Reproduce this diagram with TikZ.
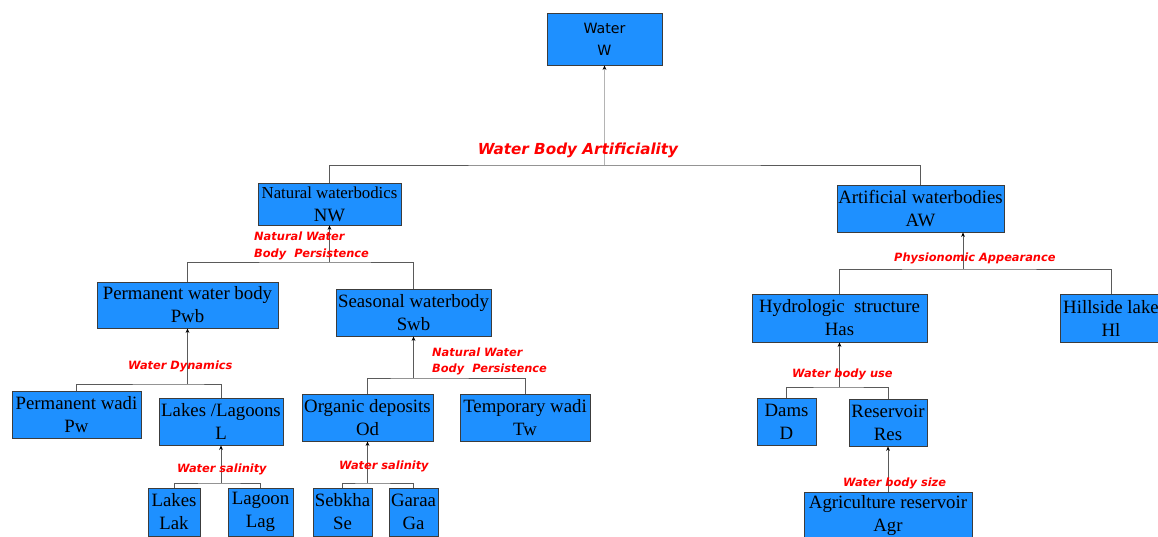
\documentclass[tikz,border=0pt]{standalone}
\usepackage{fontspec}
\setmainfont{Liberation Serif}
\newfontfamily\lblfont{DejaVu Sans}
\newfontfamily\topfont{DejaVu Sans}
\usetikzlibrary{arrows.meta}

\definecolor{boxblue}{HTML}{1E90FF}
\definecolor{boxedge}{HTML}{3C3C3C}
\definecolor{busgray}{HTML}{5A5A5A}
\definecolor{palegray}{HTML}{B4B4B4}

\tikzset{
  cls/.style={draw=boxedge, fill=boxblue, line width=0.9pt, inner sep=0pt,
    align=center, font=\fontsize{18.8}{23}\selectfont},
  bus/.style={draw=busgray, line width=0.9pt},
  up/.style={draw=busgray, line width=0.9pt,
    -{Stealth[length=4.5pt,width=3.8pt,color=black]}},
  lbl/.style={text=red, inner sep=0pt, align=left,
    font=\lblfont\bfseries\itshape\fontsize{11.4}{16.5}\selectfont},
}

% class box: name, centre x, centre y, width, height, text
\newcommand\clsbox[6]{%
  \node[cls, minimum width=#4pt, minimum height=#5pt] (#1) at (#2,#3) {#6};}

\begin{document}
\begin{tikzpicture}[x=1pt,y=-1pt]
\useasboundingbox (0,0) rectangle (1158,537);

% ---- classes ----
\node[cls, minimum width=115pt, minimum height=52pt,
      font=\topfont\fontsize{14.2}{22}\selectfont] (W) at (604.5,39) {Water\\W};

\clsbox{NW}{329.5}{204}{143}{42}{\fontsize{16.8}{19}\selectfont Natural waterbodics\\NW}
\clsbox{AW}{920.5}{208.5}{167}{47}{Artificial waterbodies\\AW}

\clsbox{Pwb}{187.5}{305}{181}{46}{Permanent water body\\Pwb}
\clsbox{Swb}{413.5}{312.5}{155}{47}{Seasonal waterbody\\Swb}

\clsbox{Pw}{76.5}{414.5}{129}{47}{Permanent wadi\\Pw}
\clsbox{L}{221}{421.5}{124}{47}{Lakes /Lagoons\\L}
\clsbox{Od}{367.5}{417.5}{131}{47}{Organic deposits\\Od}
\clsbox{Tw}{525}{417.5}{130}{47}{Temporary wadi\\Tw}

\clsbox{Lak}{174}{512}{52}{48}{Lakes\\Lak}
\clsbox{Lag}{260.5}{512}{65}{48}{Lagoon\\Lag}
\clsbox{Se}{342.5}{512}{59}{48}{Sebkha\\Se}
\clsbox{Ga}{413.5}{512}{49}{48}{Garaa\\Ga}

\clsbox{Has}{839.5}{318}{175}{48}{Hydrologic~~structure\\Has}
\clsbox{Hl}{1111}{318}{102}{48}{Hillside lake\\Hl}
\clsbox{D}{786.5}{421.5}{59}{47}{Dams\\D}
\clsbox{Res}{888}{422.5}{78}{47}{Reservoir\\Res}
\clsbox{Agr}{888}{516}{168}{48}{Agriculture reservoir\\Agr}

% ---- bus junctions ----
\coordinate (bA) at (604.5,165);
\coordinate (bN) at (329.5,262);
\coordinate (bP) at (187.5,384);
\coordinate (bS) at (413.5,378);
\coordinate (bL) at (221,483);
\coordinate (bO) at (367.5,483);
\coordinate (bW) at (963,269);
\coordinate (bH) at (839.5,387);

% ---- connectors ----
\draw[bus] (NW.north) |- (bA) -| (AW.north);
\draw[up, draw=palegray] (bA) -- (W.south);

\draw[bus] (Pwb.north) |- (bN) -| (Swb.north);
\draw[up] (bN) -- (NW.south);

\draw[bus] (Pw.north) |- (bP) -| (L.north);
\draw[up] (bP) -- (Pwb.south);

\draw[bus] (Od.north) |- (bS) -| (Tw.north);
\draw[up] (bS) -- (Swb.south);

\draw[bus] (Lak.north) |- (bL) -| (Lag.north);
\draw[up] (bL) -- (L.south);

\draw[bus] (Se.north) |- (bO) -| (Ga.north);
\draw[up] (bO) -- (Od.south);

\draw[bus] (Has.north |- bW) -- (bW) -| (Hl.north);
\draw[bus] (Has.north) -- (Has.north |- bW);
\draw[up] (bW) -- (bW |- AW.south);

\draw[bus] (D.north) |- (bH) -| (Res.north);
\draw[up] (bH) -- (Has.south);

\draw[up] (Agr.north) -- (Res.south);

% ---- criteria labels ----
\node[lbl, font=\lblfont\bfseries\itshape\fontsize{15.2}{18}\selectfont]
  (tA) at (578,150) {Water Body Artificiality};
\node[lbl, anchor=west] (tN) at (254,246) {Natural Water\\Body~~Persistence};
\node[lbl, anchor=west] (tP) at (128,366) {Water Dynamics};
\node[lbl, anchor=west] (tS) at (432,361.5) {Natural Water\\Body~~Persistence};
\node[lbl, anchor=west] (tL) at (177,469) {Water salinity};
\node[lbl, anchor=west] (tO) at (339,466) {Water salinity};
\node[lbl, anchor=west] (tW) at (894,258) {Physionomic Appearance};
\node[lbl, anchor=west] (tH) at (792,374) {Water body use};
\node[lbl, anchor=west] (tR) at (843,483) {Water body size};
\end{tikzpicture}
\end{document}
